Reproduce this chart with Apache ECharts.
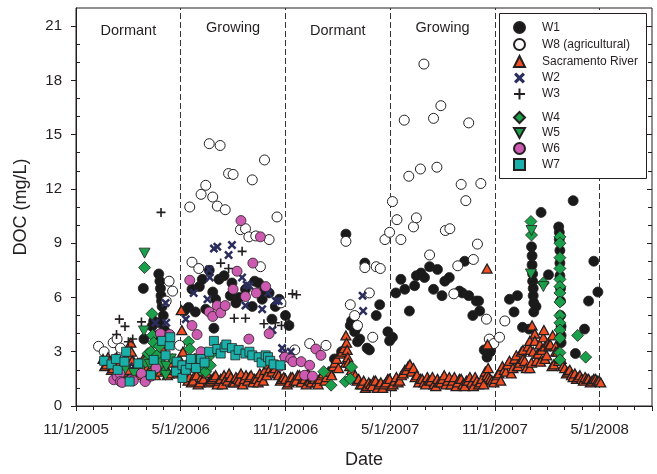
<!DOCTYPE html>
<html>
<head>
<meta charset="utf-8">
<title>DOC</title>
<script src="https://cdn.jsdelivr.net/npm/echarts@6/dist/echarts.min.js"></script>
<style>
  html, body { margin: 0; padding: 0; background: #fff; }
  #main { width: 657px; height: 474px; }
</style>
</head>
<body>
<div id="main"></div>
<script>
// x axis: months counted from 11/1/2005, labels every 6 months
var tickLabels = ['11/1/2005', '5/1/2006', '11/1/2006', '5/1/2007', '11/1/2007', '5/1/2008'];
var seasonNames = ['Dormant', 'Growing', 'Dormant', 'Growing'];
var seasonBounds = ['2005-11-01', '2006-05-01', '2006-11-01', '2007-05-01', '2007-11-01', '2008-05-01'];

// [date, DOC mg/L]
var W1 = [
  ['2006-02-25', 6.5], ['2006-02-26', 3.7], ['2006-03-12', 4.4], ['2006-03-15', 4.7], ['2006-03-22', 3.9],
  ['2006-03-24', 7.3], ['2006-03-26', 6.9], ['2006-03-27', 6.5], ['2006-03-28', 6.1], ['2006-03-29', 5.8],
  ['2006-03-30', 5.5], ['2006-04-01', 5.0], ['2006-03-25', 4.6], ['2006-04-03', 4.2],
  ['2006-05-07', 5.25], ['2006-05-15', 5.45], ['2006-05-21', 6.45], ['2006-05-27', 5.2], ['2006-06-03', 6.6],
  ['2006-06-08', 7.0], ['2006-06-14', 5.35], ['2006-06-20', 7.5], ['2006-06-26', 6.3], ['2006-06-28', 4.3],
  ['2006-07-01', 5.9], ['2006-07-07', 7.0], ['2006-07-16', 7.2], ['2006-07-27', 6.1], ['2006-07-30', 6.8],
  ['2006-08-06', 5.7], ['2006-08-12', 6.0], ['2006-08-23', 6.45], ['2006-09-04', 5.5], ['2006-09-08', 6.9],
  ['2006-09-15', 6.8], ['2006-09-21', 5.9], ['2006-09-25', 6.4], ['2006-10-03', 6.25], ['2006-10-08', 4.8],
  ['2006-10-14', 5.5], ['2006-10-21', 5.9], ['2006-11-01', 5.0], ['2006-11-07', 4.45],
  ['2007-01-26', 2.6], ['2007-02-07', 3.0], ['2007-02-14', 9.5], ['2007-02-21', 4.45], ['2007-02-23', 4.7],
  ['2007-02-28', 4.1], ['2007-03-03', 4.3], ['2007-03-05', 3.55], ['2007-03-09', 3.7], ['2007-03-18', 7.9],
  ['2007-03-22', 3.2], ['2007-03-26', 3.1], ['2007-04-07', 5.0], ['2007-04-13', 5.6], ['2007-04-27', 4.1],
  ['2007-04-30', 3.6], ['2007-05-05', 3.8],
  ['2007-05-11', 6.25], ['2007-05-20', 7.0], ['2007-05-27', 6.45], ['2007-06-04', 5.25], ['2007-06-13', 6.65],
  ['2007-06-16', 7.2], ['2007-06-24', 7.35], ['2007-06-30', 7.1], ['2007-07-09', 7.7], ['2007-07-16', 6.45],
  ['2007-07-23', 7.55], ['2007-07-31', 6.1], ['2007-08-05', 6.9], ['2007-08-13', 7.1], ['2007-08-31', 6.35],
  ['2007-09-05', 6.25], ['2007-09-09', 8.0], ['2007-09-16', 6.1], ['2007-09-23', 5.0], ['2007-09-29', 5.8],
  ['2007-10-03', 5.8], ['2007-10-05', 5.25], ['2007-10-13', 3.1], ['2007-10-18', 2.7], ['2007-10-24', 3.0],
  ['2007-11-26', 5.9], ['2007-12-04', 5.2], ['2007-12-10', 6.1], ['2007-12-19', 4.35], ['2007-12-31', 4.25],
  ['2008-01-04', 8.8], ['2008-01-05', 8.3], ['2008-01-05', 7.8], ['2008-01-06', 7.3], ['2008-01-06', 6.9],
  ['2008-01-07', 6.5], ['2008-01-07', 6.1], ['2008-01-08', 5.7], ['2008-01-08', 5.2], ['2008-01-12', 5.5],
  ['2008-01-21', 10.7], ['2008-02-03', 7.25], ['2008-02-20', 9.9], ['2008-02-21', 9.6], ['2008-02-21', 9.2],
  ['2008-02-22', 8.6], ['2008-02-22', 7.9], ['2008-02-22', 7.2], ['2008-02-23', 6.5], ['2008-02-23', 5.8],
  ['2008-02-23', 5.0], ['2008-02-24', 4.4], ['2008-02-24', 3.9], ['2008-02-24', 3.5], ['2008-03-16', 11.35],
  ['2008-03-20', 2.9], ['2008-04-05', 4.25], ['2008-04-12', 5.8], ['2008-04-21', 8.0], ['2008-04-28', 6.3]
];
var W8 = [
  ['2005-12-10', 3.3], ['2005-12-20', 3.0], ['2006-01-05', 3.5], ['2006-01-12', 3.7], ['2006-01-18', 3.2],
  ['2006-04-06', 5.8], ['2006-04-11', 6.9], ['2006-04-17', 6.35], ['2006-04-29', 3.35],
  ['2006-05-17', 11.0], ['2006-05-21', 7.95], ['2006-06-02', 7.6], ['2006-06-06', 11.7], ['2006-06-14', 12.2],
  ['2006-06-20', 14.5], ['2006-06-26', 11.55], ['2006-07-04', 11.05], ['2006-07-09', 14.4], ['2006-07-18', 10.85],
  ['2006-07-24', 12.85], ['2006-08-01', 12.8], ['2006-08-14', 9.75], ['2006-08-23', 9.8], ['2006-08-29', 9.35],
  ['2006-09-04', 12.5], ['2006-09-10', 9.4], ['2006-09-18', 7.7], ['2006-09-25', 13.6], ['2006-10-03', 9.2],
  ['2006-10-17', 10.45], ['2006-10-24', 5.7], ['2006-11-17', 3.1], ['2006-12-13', 3.45], ['2007-01-11', 3.35],
  ['2007-02-14', 9.1], ['2007-02-21', 5.6], ['2007-02-28', 5.0], ['2007-03-05', 4.45], ['2007-03-18', 7.65],
  ['2007-03-26', 6.25], ['2007-04-01', 3.8], ['2007-04-07', 7.7], ['2007-04-14', 7.6], ['2007-04-22', 9.2],
  ['2007-04-30', 9.6], ['2007-05-05', 11.3], ['2007-05-13', 10.3], ['2007-05-20', 9.2], ['2007-05-26', 15.8],
  ['2007-06-03', 12.7], ['2007-06-11', 9.9], ['2007-06-16', 10.4], ['2007-06-23', 13.1], ['2007-06-29', 18.9],
  ['2007-07-09', 8.35], ['2007-07-16', 15.9], ['2007-07-22', 13.2], ['2007-07-29', 16.6], ['2007-08-06', 9.7],
  ['2007-08-14', 9.8], ['2007-08-21', 6.2], ['2007-08-28', 7.75], ['2007-09-03', 12.25], ['2007-09-11', 11.35],
  ['2007-09-16', 15.65], ['2007-09-24', 8.1], ['2007-10-01', 8.95], ['2007-10-07', 12.3], ['2007-10-17', 4.8],
  ['2007-10-22', 3.7], ['2007-10-30', 3.45], ['2007-11-09', 3.8], ['2007-11-18', 4.7]
];
var W2 = [
  ['2006-01-20', 2.6], ['2006-02-02', 2.2], ['2006-02-24', 2.45], ['2006-03-18', 4.6], ['2006-04-05', 5.7],
  ['2006-04-06', 4.6], ['2006-05-10', 4.8], ['2006-05-24', 6.25], ['2006-06-17', 5.9], ['2006-06-20', 7.55],
  ['2006-06-21', 7.1], ['2006-06-28', 8.7], ['2006-07-04', 8.8], ['2006-07-24', 8.35], ['2006-07-30', 8.9],
  ['2006-08-17', 7.1], ['2006-08-23', 5.55], ['2006-08-25', 6.7], ['2006-08-30', 6.65], ['2006-09-21', 5.35],
  ['2006-10-01', 6.25], ['2006-10-09', 4.2], ['2006-10-15', 5.8], ['2006-10-20', 5.8], ['2006-10-26', 3.2],
  ['2006-10-28', 2.9], ['2006-11-04', 2.7], ['2006-11-10', 3.0], ['2007-03-14', 6.1], ['2007-03-15', 5.25]
];
var W3 = [
  ['2006-01-11', 3.95], ['2006-01-16', 4.8], ['2006-01-26', 4.4], ['2006-02-01', 3.55], ['2006-02-08', 3.7],
  ['2006-02-22', 4.65], ['2006-03-28', 10.7], ['2006-07-10', 7.9], ['2006-07-24', 7.6], ['2006-08-03', 4.85],
  ['2006-08-08', 7.45], ['2006-08-17', 8.55], ['2006-08-23', 4.85], ['2006-09-24', 4.55], ['2006-10-14', 4.6],
  ['2006-10-25', 4.45], ['2006-11-07', 4.6], ['2006-11-13', 6.2], ['2006-11-20', 6.15]
];
var W4 = [
  ['2006-02-18', 2.1], ['2006-02-27', 7.65], ['2006-03-01', 2.45], ['2006-03-05', 2.9], ['2006-03-10', 3.0],
  ['2006-03-12', 5.1], ['2006-03-13', 3.9], ['2006-03-15', 3.5], ['2006-03-21', 2.8], ['2006-03-25', 3.3],
  ['2006-03-28', 2.4], ['2006-04-04', 1.9], ['2006-05-15', 3.55], ['2006-05-17', 3.15], ['2006-05-22', 2.2],
  ['2006-05-26', 2.6], ['2006-06-05', 2.0], ['2006-06-14', 1.9], ['2006-06-15', 2.35], ['2006-06-22', 2.25],
  ['2006-06-23', 2.85], ['2007-01-07', 1.9], ['2007-01-20', 1.15], ['2007-02-13', 1.35], ['2007-02-21', 1.5],
  ['2007-02-23', 2.15], ['2008-01-03', 10.2], ['2008-01-04', 9.45], ['2008-01-25', 6.8],
  ['2008-02-22', 9.35], ['2008-02-22', 9.0], ['2008-02-22', 8.2], ['2008-02-22', 7.6], ['2008-02-22', 7.0],
  ['2008-02-22', 6.6], ['2008-02-22', 6.25], ['2008-02-22', 5.75], ['2008-02-22', 5.0], ['2008-02-22', 4.6],
  ['2008-02-22', 4.2], ['2008-02-22', 3.75], ['2008-02-22', 2.95], ['2008-02-22', 2.55], ['2008-03-24', 3.9],
  ['2008-04-07', 2.7]
];
var W5 = [
  ['2006-01-26', 2.0], ['2006-02-10', 1.8], ['2006-02-26', 4.15], ['2006-02-26', 1.7], ['2006-02-27', 8.45],
  ['2006-03-08', 2.3], ['2006-03-18', 1.9], ['2006-04-05', 1.7], ['2006-04-06', 2.2], ['2006-04-14', 2.6],
  ['2008-01-03', 7.3], ['2008-01-04', 9.7], ['2008-01-25', 6.6]
];
var W6 = [
  ['2006-01-06', 1.45], ['2006-01-12', 1.65], ['2006-01-17', 1.8], ['2006-01-18', 1.35], ['2006-01-21', 1.3],
  ['2006-02-05', 1.45], ['2006-02-09', 1.4], ['2006-02-22', 1.8], ['2006-02-28', 1.35], ['2006-03-10', 1.65],
  ['2006-03-19', 2.1], ['2006-03-27', 4.0], ['2006-04-12', 3.95],
  ['2006-05-17', 6.95], ['2006-05-21', 4.45], ['2006-05-30', 3.95], ['2006-06-06', 3.0], ['2006-06-20', 5.2],
  ['2006-06-26', 4.95], ['2006-07-04', 5.55], ['2006-07-10', 5.15], ['2006-07-18', 5.55], ['2006-08-01', 6.45],
  ['2006-08-08', 7.45], ['2006-08-15', 10.25], ['2006-08-23', 6.05], ['2006-08-29', 3.7], ['2006-09-05', 7.9],
  ['2006-09-11', 6.25], ['2006-09-18', 9.35], ['2006-09-27', 6.6], ['2006-10-03', 4.0], ['2006-10-22', 2.2],
  ['2006-10-31', 2.7], ['2006-11-10', 2.6], ['2006-11-14', 2.45], ['2006-11-28', 2.45], ['2006-12-04', 1.7],
  ['2006-12-13', 2.25], ['2006-12-18', 1.65], ['2006-12-24', 3.15], ['2007-01-02', 2.8]
];
var W7 = [
  ['2005-12-20', 2.5], ['2006-01-02', 2.3], ['2006-01-10', 2.6], ['2006-01-13', 2.0], ['2006-01-25', 2.45],
  ['2006-01-28', 3.0], ['2006-02-03', 1.35], ['2006-02-17', 2.35], ['2006-03-10', 1.7], ['2006-03-15', 2.55],
  ['2006-03-30', 3.6], ['2006-04-05', 2.8], ['2006-04-12', 3.35], ['2006-04-13', 3.8], ['2006-04-23', 1.9],
  ['2006-04-24', 2.45], ['2006-05-04', 1.55], ['2006-05-04', 2.25], ['2006-05-10', 2.0], ['2006-05-18', 2.3],
  ['2006-05-19', 2.6], ['2006-05-28', 2.1], ['2006-06-06', 2.6], ['2006-06-12', 2.4], ['2006-06-20', 3.0],
  ['2006-06-28', 3.6], ['2006-07-04', 3.15], ['2006-07-10', 2.9], ['2006-07-17', 3.25], ['2006-07-20', 3.4],
  ['2006-07-30', 3.2], ['2006-08-05', 2.8], ['2006-08-11', 3.1], ['2006-08-23', 2.9], ['2006-08-30', 3.0],
  ['2006-09-04', 2.8], ['2006-09-15', 2.7], ['2006-09-20', 2.4], ['2006-09-27', 2.8], ['2006-10-01', 2.7],
  ['2006-10-05', 2.5], ['2006-10-11', 2.3], ['2006-10-23', 2.25]
];
// Sacramento River: two interleaved runs, each sampled every 6 days
var riverStepDays = 6;
var riverStartA = [2005, 12, 18];
var riverValuesA = [
  2.6, 2.3, 2.5, 2.1, 2.7, 2.4, 1.9,
  2.3, 2.8, 1.8, 2.4, 2.0, 1.6, 2.9, 2.2, 1.7, 2.5, 3.2, 2.0, 1.8, 2.6, 2.2,
  2.6, 2.1, 1.8,
  1.6, 1.4, 1.7, 1.3, 1.5, 1.8, 1.4, 1.6, 1.2, 1.5, 1.7, 1.4, 1.6, 1.3, 1.5, 1.8, 1.5, 1.4, 1.7, 1.5, 1.3, 1.6, 2.0, 2.3, 1.9, 2.1, 1.7, 1.5,
  1.5, 1.3, 1.6, 1.4, 1.7, 1.5, 1.2, 1.4, 1.6, 1.3, 1.5, 1.8, 1.6, 1.9,
  2.2, 2.6, 2.9, 3.2, 2.6, 2.0, 1.7, 1.5,
  1.2, 1.0, 1.3, 1.1, 1.4, 1.2, 1.0, 1.3, 1.5, 1.2, 1.6, 1.4, 1.8, 2.0, 2.3, 2.1, 1.7, 1.5,
  1.3, 1.6, 1.4, 1.2, 1.5, 1.3, 1.7, 1.4, 1.2, 1.6, 1.3, 1.5, 1.1, 1.4, 1.3, 1.6, 1.2, 1.5,
  1.9, 1.6, 1.4,
  1.5, 1.8, 2.2, 1.9, 2.5, 2.1, 2.8, 2.4, 3.1,
  2.1, 3.6, 3.0, 2.5, 3.4, 3.8, 2.8, 3.4, 2.3, 3.0, 2.6,
  2.1, 1.9, 1.7, 1.8, 1.6, 1.5, 1.6, 1.5, 1.4, 1.5, 1.4
];
var riverStartB = [2005, 12, 21];
var riverValuesB = [
  2.2, 2.7, 2.0, 2.6, 2.3, 1.8, 2.5,
  2.0, 2.5, 2.2, 1.7, 2.6, 2.1, 1.9, 2.4, 2.8, 1.9, 2.3, 1.7, 2.4, 2.0, 1.8,
  1.9, 1.6, 1.4,
  1.3, 1.7, 1.2, 1.6, 1.9, 1.3, 1.5, 1.7, 1.4, 1.2, 1.5, 1.8, 1.3, 1.6, 1.4, 1.2, 1.7, 1.6, 1.3, 1.5, 1.8, 1.4, 1.7, 2.1, 2.4, 1.8, 1.4, 1.6,
  1.2, 1.6, 1.4, 1.7, 1.3, 1.5, 1.8, 1.3, 1.5, 1.2, 1.7, 1.4, 1.9, 1.7,
  2.4, 2.1, 3.0, 2.4, 2.2, 1.8, 1.4, 1.2,
  1.4, 1.1, 1.2, 1.4, 1.0, 1.3, 1.2, 1.5, 1.1, 1.4, 1.3, 1.7, 2.0, 2.2, 1.9, 1.6, 1.3, 1.5,
  1.2, 1.4, 1.6, 1.1, 1.3, 1.5, 1.2, 1.6, 1.4, 1.1, 1.5, 1.2, 1.4, 1.6, 1.1, 1.4, 1.3, 1.2,
  1.7, 1.5, 1.3,
  1.7, 1.4, 2.0, 2.3, 1.8, 2.6, 2.2, 3.0, 2.5,
  3.3, 2.4, 4.0, 2.9, 3.1, 2.6, 3.5, 2.2, 3.3, 2.7, 2.2,
  1.8, 2.0, 1.6, 1.5, 1.7, 1.4, 1.5, 1.3, 1.5, 1.4, 1.3
];
var riverExtra = [
  ['2006-02-05', 3.5], ['2006-02-06', 3.0], ['2006-05-02', 5.3], ['2006-05-03', 4.2], ['2006-05-05', 3.0],
  ['2007-02-14', 3.9], ['2007-02-15', 3.5], ['2007-02-16', 3.1], ['2007-02-17', 2.7], ['2007-02-18', 2.4],
  ['2007-10-18', 7.6], ['2007-10-19', 3.4], ['2007-10-20', 2.1], ['2007-12-10', 2.2], ['2007-12-20', 2.6],
  ['2008-01-01', 2.1], ['2008-01-02', 3.1], ['2008-01-05', 4.45], ['2008-01-10', 3.6], ['2008-01-15', 2.9],
  ['2008-01-20', 2.45], ['2008-01-26', 4.2], ['2008-01-28', 3.3], ['2008-02-04', 3.35], ['2008-02-10', 3.9],
  ['2008-02-15', 3.0], ['2008-02-20', 2.5]
];

function monthPos(y, m, d) {
  var dim = new Date(Date.UTC(y, m, 0)).getUTCDate();
  return (y - 2005) * 12 + (m - 11) + (d - 1) / dim;
}
function fromIso(s) {
  var p = s.split('-');
  return monthPos(+p[0], +p[1], +p[2]);
}
function pts(list) {
  return list.map(function (p) { return [fromIso(p[0]), p[1]]; });
}
function runPoints(start, values) {
  var t0 = Date.UTC(start[0], start[1] - 1, start[2]);
  return values.map(function (v, i) {
    var dt = new Date(t0 + i * riverStepDays * 86400000);
    return [monthPos(dt.getUTCFullYear(), dt.getUTCMonth() + 1, dt.getUTCDate()), v];
  });
}
// draw in date order so the overlapping triangles stack like the daily record
var riverData = runPoints(riverStartA, riverValuesA)
  .concat(runPoints(riverStartB, riverValuesB))
  .concat(pts(riverExtra))
  .sort(function (a, b) { return a[0] - b[0]; });

var ink = '#231f20';
var font = '"Liberation Sans", Arial, Helvetica, sans-serif';
var xMark = 'path://M2,0L5,3L8,0L10,2L7,5L10,8L8,10L5,7L2,10L0,8L3,5L0,2Z';
var plusMark = 'path://M4.1,0H5.9V4.1H10V5.9H5.9V10H4.1V5.9H0V4.1H4.1Z';
var downTri = 'path://M0,0L10,0L5,9Z';

function scatter(name, data, symbol, size, color, bw) {
  return {
    name: name, type: 'scatter', data: data, symbol: symbol, symbolSize: size,
    itemStyle: { color: color, borderColor: ink, borderWidth: bw, opacity: 1 },
    emphasis: { disabled: true }, animation: false
  };
}

var series = [
  scatter('W1', pts(W1), 'circle', 10, '#1a1a1a', 0.8),
  scatter('W8 (agricultural)', pts(W8), 'circle', 10, '#ffffff', 1),
  scatter('Sacramento River', riverData, 'triangle', [10, 9], '#f04e23', 1.3),
  scatter('W2', pts(W2), xMark, 9, '#2b2d5c', 0),
  scatter('W3', pts(W3), plusMark, 9, ink, 0),
  scatter('W4', pts(W4), 'diamond', 12, '#1aa04a', 0.8),
  scatter('W5', pts(W5), downTri, [11, 10], '#1aa04a', 0.8),
  scatter('W6', pts(W6), 'circle', 10, '#cc5ab0', 0.8),
  scatter('W7', pts(W7), 'rect', 9, '#1aafa8', 0.8)
];

// dashed season boundaries and season labels hang off the first series
series[0].markLine = {
  silent: true, symbol: 'none', z: 1, animation: false,
  label: { show: false },
  lineStyle: { color: '#333', width: 1, type: [6, 3] },
  data: seasonBounds.slice(1).map(function (d) { return { xAxis: fromIso(d) }; })
};
series[0].markArea = {
  silent: true, animation: false,
  itemStyle: { color: 'rgba(0,0,0,0)' },
  data: seasonNames.map(function (n, i) {
    return [{
      name: n, xAxis: fromIso(seasonBounds[i]),
      label: {
        show: true, position: 'insideTop', distance: n === 'Dormant' ? 15 : 12,
        color: ink, fontSize: 14.5, fontFamily: font
      }
    }, { xAxis: fromIso(seasonBounds[i + 1]) }];
  })
};

var yTicks = [0, 3, 6, 9, 12, 15, 18, 21];
var legendText = { color: ink, fontSize: 12, fontFamily: font, lineHeight: 12, padding: [0, 0, 0, 12] };

var option = {
  animation: false,
  textStyle: { fontFamily: font },
  grid: { left: 76, right: 5, top: 8, bottom: 63, show: true, borderColor: ink, borderWidth: 1 },
  xAxis: {
    type: 'value', min: 0, max: 33, interval: 6,
    name: 'Date', nameLocation: 'middle', nameGap: 45,
    nameTextStyle: { color: ink, fontSize: 18, fontFamily: font },
    axisLine: { lineStyle: { color: ink, width: 1 } },
    axisTick: { length: 5, lineStyle: { color: ink } },
    minorTick: { show: true, splitNumber: 6, length: 4, lineStyle: { color: ink } },
    splitLine: { show: false },
    axisLabel: {
      margin: 16, fontSize: 15, color: ink, fontFamily: font,
      formatter: function (v) { return tickLabels[v / 6] || ''; }
    }
  },
  yAxis: [{
    type: 'value', min: 0, max: 22, interval: 3, position: 'left',
    name: 'DOC (mg/L)', nameLocation: 'middle', nameGap: 46, nameRotate: 90,
    nameTextStyle: { color: ink, fontSize: 18, fontFamily: font },
    axisLine: { show: true, lineStyle: { color: ink } },
    axisTick: { length: 5, lineStyle: { color: ink }, customValues: yTicks },
    splitLine: { show: false },
    axisLabel: { margin: 14, fontSize: 15, color: ink, fontFamily: font, customValues: yTicks }
  }, {
    type: 'value', min: 0, max: 22, interval: 3, position: 'left',
    axisLine: { show: false }, axisLabel: { show: false }, splitLine: { show: false },
    axisTick: { show: false, inside: true },
    minorTick: { show: true, splitNumber: 3, length: 4, lineStyle: { color: ink } }
  }, {
    type: 'value', min: 0, max: 22, interval: 3, position: 'right',
    axisLine: { show: false }, axisLabel: { show: false }, splitLine: { show: false },
    axisTick: { show: true, inside: true, length: 5, lineStyle: { color: ink }, customValues: yTicks },
    minorTick: { show: true, splitNumber: 3, length: 4, lineStyle: { color: ink } }
  }],
  graphic: [{
    type: 'rect', left: 499, top: 13, z: 6, silent: true,
    shape: { width: 147, height: 165 },
    style: { fill: '#fff', stroke: ink, lineWidth: 1 }
  }],
  legend: [{
    z: 8, orient: 'vertical', left: 513, top: 21, padding: 0,
    itemWidth: 11, itemHeight: 11, itemGap: 4, selectedMode: false,
    textStyle: legendText,
    data: ['W1', 'W8 (agricultural)', 'Sacramento River', 'W2', 'W3']
  }, {
    z: 8, orient: 'vertical', left: 513, top: 111, padding: 0,
    itemWidth: 11, itemHeight: 11, itemGap: 3, selectedMode: false,
    textStyle: legendText,
    data: ['W4', 'W5', 'W6', 'W7']
  }],
  series: series
};

var chart = echarts.init(document.getElementById('main'), null, { renderer: 'canvas' });
chart.setOption(option);
</script>
</body>
</html>
